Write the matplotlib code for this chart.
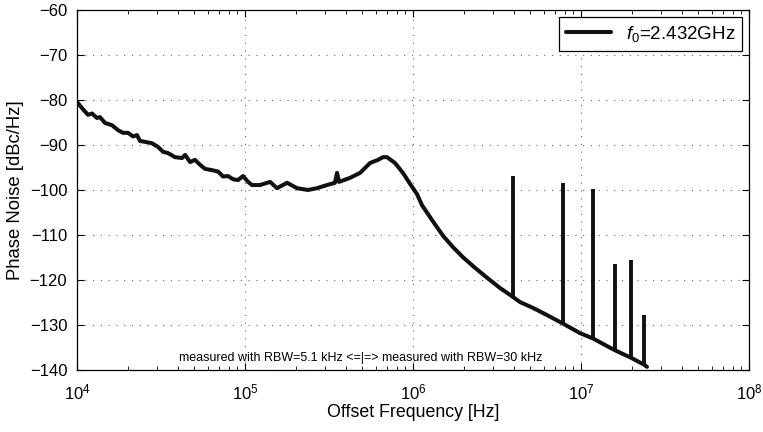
import matplotlib
matplotlib.use("Agg")
import matplotlib.pyplot as plt
import numpy as np

plt.rcParams['font.family'] = ['Liberation Sans', 'DejaVu Sans']
plt.rcParams['mathtext.fontset'] = 'custom'
plt.rcParams['mathtext.rm'] = 'Liberation Sans'
plt.rcParams['mathtext.it'] = 'Liberation Sans:italic'

# phase noise trace (offset in Hz, level in dBc/Hz)
freq = [1.00e4, 1.071e4, 1.163e4, 1.228e4, 1.315e4, 1.37e4, 1.468e4, 1.616e4,
        1.754e4, 1.879e4, 2.012e4, 2.154e4, 2.275e4, 2.371e4, 2.54e4, 2.79e4,
        3.03e4, 3.25e4, 3.48e4, 3.83e4, 4.22e4, 4.40e4, 4.71e4, 5.04e4, 5.40e4,
        5.78e4, 6.37e4, 6.91e4, 7.40e4, 7.92e4, 8.48e4, 9.08e4, 9.73e4, 1.043e5,
        1.10e5, 1.228e5, 1.41e5, 1.55e5, 1.78e5, 2.04e5, 2.37e5, 2.68e5, 3.08e5,
        3.43e5, 3.53e5, 3.63e5, 4.22e5, 4.84e5, 5.55e5, 6.19e5, 6.63e5, 7.00e5,
        7.81e5, 8.71e5, 9.59e5, 1.056e6, 1.132e6, 1.316e6, 1.51e6, 1.73e6,
        1.99e6, 2.34e6, 2.76e6, 3.30e6, 3.78e6, 4.33e6, 5.18e6, 6.28e6, 7.82e6,
        9.86e6, 1.178e7, 1.352e7, 1.59e7, 1.99e7, 2.37e7, 2.47e7]
noise = [-80.4, -81.8, -83.3, -83.0, -84.0, -83.8, -85.1, -85.6,
         -86.7, -87.3, -87.3, -88.1, -87.8, -89.1, -89.3, -89.6,
         -90.4, -91.5, -91.8, -92.7, -92.9, -92.2, -93.8, -93.3, -94.4,
         -95.3, -95.6, -95.9, -97.0, -96.9, -97.6, -97.8, -96.9, -98.2,
         -98.9, -98.9, -98.2, -99.6, -98.4, -99.6, -100.0, -99.6, -98.9,
         -98.4, -96.2, -98.2, -97.3, -96.2, -94.0, -93.3, -92.7, -92.7,
         -94.0, -96.2, -98.6, -100.9, -103.4, -107.0, -110.2, -112.7,
         -115.0, -117.3, -119.5, -121.8, -123.3, -124.9, -126.2, -127.8, -129.7,
         -131.8, -133.0, -134.2, -135.6, -137.3, -138.8, -139.3]

# spurs
spur_f = [3.94e6, 7.82e6, 1.178e7, 1.59e7, 1.99e7, 2.37e7]
spur_base = [-123.7, -129.8, -133.0, -135.6, -137.2, -138.8]
spur_top = [-96.9, -98.4, -99.8, -116.4, -115.6, -127.8]

fig = plt.figure(figsize=(7.63, 4.32), dpi=100)
ax = fig.add_axes([0.1009, 0.1435, 0.8808, 0.8334])

ax.semilogx(freq, noise, color='#111111', lw=2.9, solid_joinstyle='round',
            solid_capstyle='round', label='$f_0$=2.432GHz')
ax.vlines(spur_f, spur_base, spur_top, color='#111111', lw=2.8)

ax.set_xlim(1e4, 1e8)
ax.set_ylim(-140, -60)
ax.set_yticks(np.arange(-140, -59, 10))
ax.grid(True, which='major', linestyle=(0, (1, 6)), color='#666666', lw=0.8)
ax.tick_params(which='both', direction='in', top=True, right=True, labelsize=12)
ax.tick_params(which='major', length=5)
ax.tick_params(which='minor', length=3)
ax.tick_params(axis='x', pad=9)
ax.tick_params(axis='y', pad=7)
for s in ax.spines.values():
    s.set_linewidth(0.9)

ax.set_xlabel('Offset Frequency [Hz]', fontsize=12.8, labelpad=1)
ax.set_ylabel('Phase Noise [dBc/Hz]', fontsize=13.3, labelpad=4)

ax.text(4.9e5, -137.3, 'measured with RBW=5.1 kHz <=|=> measured with RBW=30 kHz',
        ha='center', va='center', fontsize=9)

leg = ax.legend(loc='upper right', fontsize=13.5, fancybox=False, framealpha=1,
                edgecolor='black', handlelength=2.4, borderaxespad=0.4,
                borderpad=0.35)
leg.get_frame().set_linewidth(0.9)

fig.savefig('out.png', dpi=100)
